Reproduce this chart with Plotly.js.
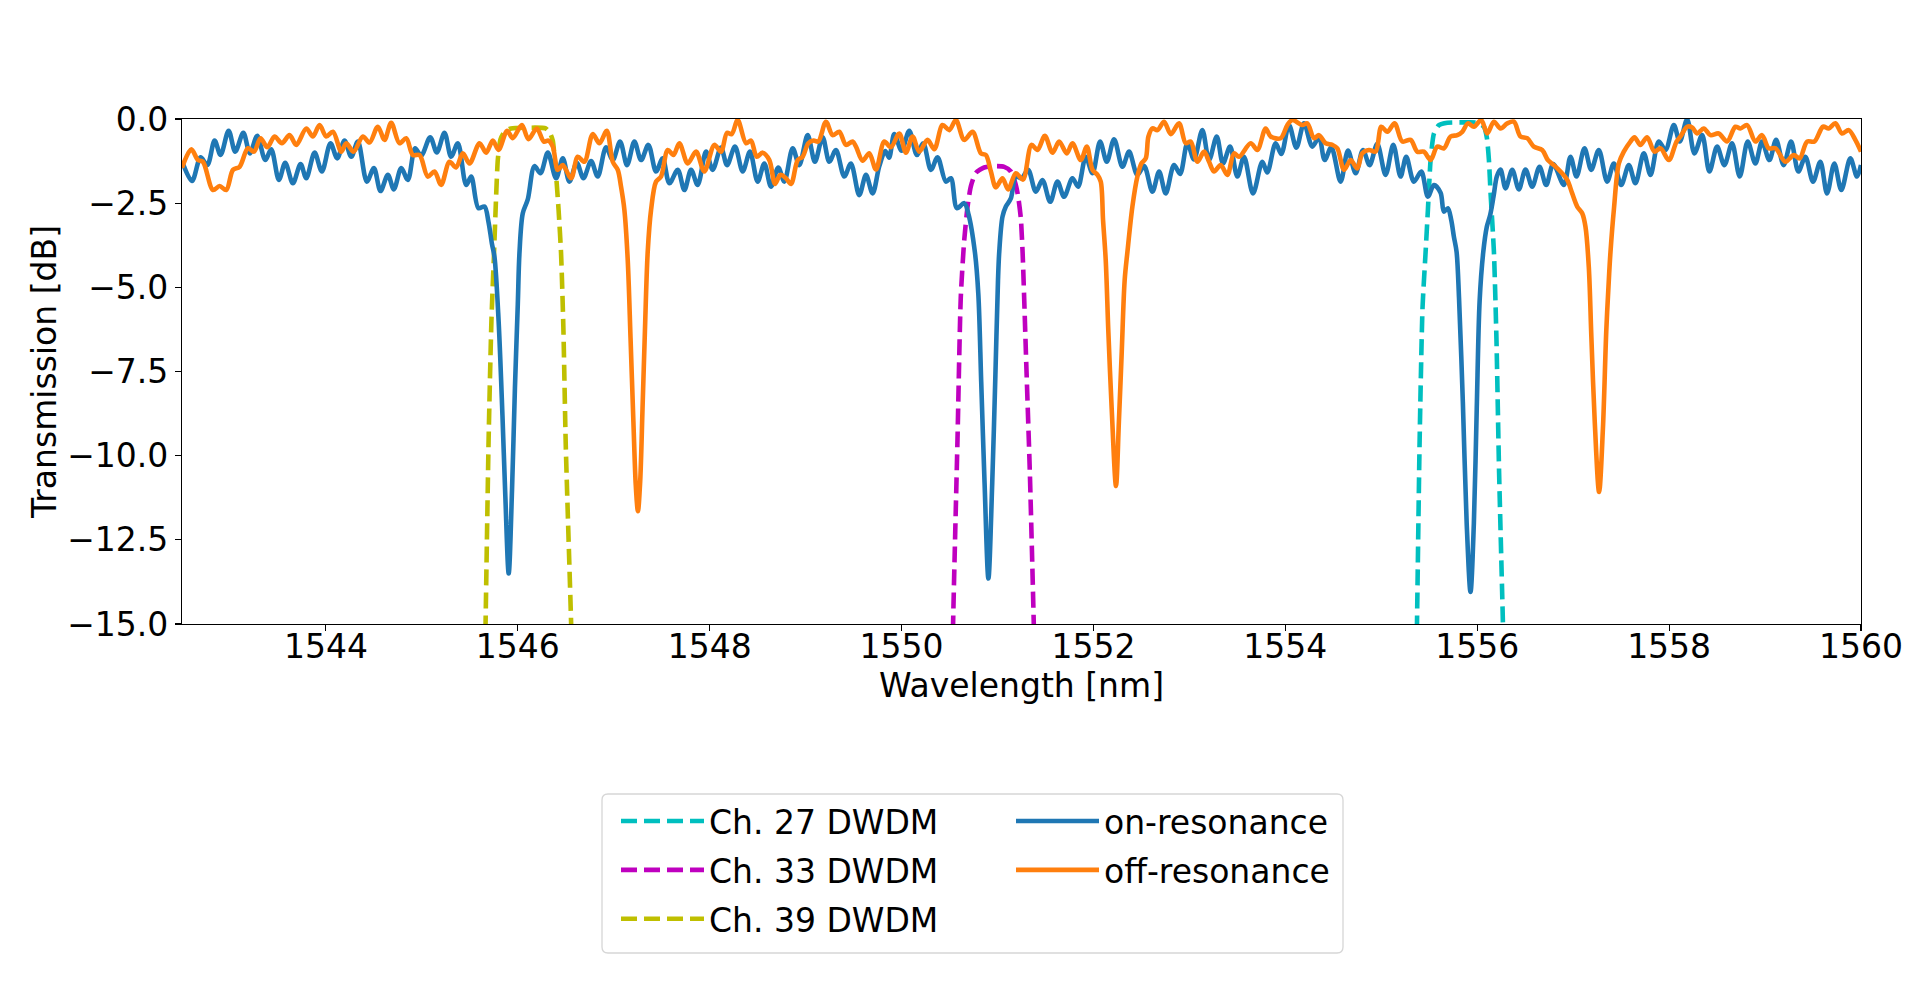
<!DOCTYPE html>
<html>
<head>
<meta charset="utf-8">
<script src="https://cdn.plot.ly/plotly-3.0.1.min.js"></script>
<style>
html,body{margin:0;padding:0;background:#ffffff;}
#chart{width:1920px;height:983px;}
</style>
</head>
<body>
<div id="chart"></div>
<script>
// ---------- data (wavelength in nm, transmission in dB) ----------
const onWl = [
1542.500, 1542.604, 1542.694, 1542.764, 1542.840, 1542.902, 1542.986, 1543.055, 1543.139, 1543.208,
1543.284, 1543.368, 1543.430, 1543.510, 1543.576, 1543.656, 1543.736, 1543.795, 1543.882, 1543.958,
1544.048, 1544.118, 1544.194, 1544.264, 1544.333, 1544.427, 1544.500, 1544.569, 1544.646, 1544.708,
1544.785, 1544.854, 1544.930, 1544.993, 1545.087, 1545.156, 1545.236, 1545.305, 1545.375, 1545.462,
1545.514, 1545.590, 1545.653, 1545.694, 1545.730, 1545.757, 1545.800, 1545.840, 1545.870, 1545.905,
1545.940, 1545.970, 1546.000, 1546.017, 1546.052, 1546.104, 1546.174, 1546.236, 1546.313, 1546.399,
1546.469, 1546.538, 1546.615, 1546.684, 1546.764, 1546.833, 1546.920, 1546.990, 1547.066, 1547.139,
1547.215, 1547.285, 1547.361, 1547.441, 1547.510, 1547.580, 1547.667, 1547.736, 1547.806, 1547.875,
1547.962, 1548.031, 1548.118, 1548.181, 1548.264, 1548.344, 1548.420, 1548.500, 1548.570, 1548.639,
1548.715, 1548.778, 1548.865, 1548.934, 1549.021, 1549.097, 1549.177, 1549.247, 1549.316, 1549.403,
1549.472, 1549.559, 1549.629, 1549.698, 1549.768, 1549.830, 1549.870, 1549.924, 1550.000, 1550.080,
1550.160, 1550.226, 1550.306, 1550.375, 1550.462, 1550.514, 1550.577, 1550.653, 1550.695, 1550.764,
1550.800, 1550.830, 1550.865, 1550.905, 1550.945, 1550.978, 1551.005, 1551.018, 1551.052, 1551.087,
1551.139, 1551.191, 1551.250, 1551.319, 1551.399, 1551.468, 1551.549, 1551.625, 1551.694, 1551.781,
1551.840, 1551.920, 1551.990, 1552.069, 1552.139, 1552.215, 1552.302, 1552.371, 1552.458, 1552.528,
1552.615, 1552.684, 1552.753, 1552.840, 1552.903, 1552.979, 1553.048, 1553.135, 1553.205, 1553.285,
1553.350, 1553.424, 1553.500, 1553.569, 1553.663, 1553.760, 1553.812, 1553.899, 1553.958, 1554.038,
1554.115, 1554.194, 1554.281, 1554.351, 1554.410, 1554.479, 1554.576, 1554.653, 1554.733, 1554.809,
1554.878, 1554.958, 1555.045, 1555.125, 1555.201, 1555.260, 1555.340, 1555.417, 1555.486, 1555.549,
1555.618, 1555.653, 1555.694, 1555.729, 1555.757, 1555.785, 1555.810, 1555.850, 1555.890, 1555.930,
1555.965, 1555.995, 1556.025, 1556.063, 1556.100, 1556.135, 1556.170, 1556.205, 1556.243, 1556.295,
1556.365, 1556.434, 1556.503, 1556.573, 1556.649, 1556.719, 1556.792, 1556.903, 1556.972, 1557.035,
1557.118, 1557.188, 1557.267, 1557.354, 1557.424, 1557.500, 1557.580, 1557.649, 1557.736, 1557.806,
1557.892, 1557.962, 1558.049, 1558.111, 1558.188, 1558.264, 1558.344, 1558.420, 1558.500, 1558.576,
1558.656, 1558.736, 1558.819, 1558.899, 1558.969, 1559.045, 1559.115, 1559.194, 1559.271, 1559.347,
1559.420, 1559.500, 1559.576, 1559.646, 1559.722, 1559.795, 1559.889, 1559.958, 1560.000
];
const onDb = [
-1.25, -1.84, -1.14, -1.37, -0.64, -1.07, -0.35, -0.97, -0.41, -1.02,
-0.50, -1.22, -0.90, -1.81, -1.30, -1.91, -1.34, -1.76, -1.00, -1.56,
-0.72, -1.17, -0.64, -1.12, -0.67, -1.86, -1.46, -2.14, -1.66, -2.09,
-1.46, -1.81, -0.87, -1.09, -0.54, -0.99, -0.41, -1.12, -0.72, -1.96,
-1.71, -2.65, -2.60, -3.05, -3.70, -4.10, -6.00, -8.80, -11.20, -13.50,
-11.00, -8.00, -5.50, -4.00, -2.80, -2.39, -1.40, -1.61, -1.00, -1.76,
-1.17, -1.86, -1.30, -1.76, -1.25, -1.71, -0.84, -1.22, -0.67, -1.37,
-0.67, -1.22, -0.77, -1.56, -1.17, -1.91, -1.51, -2.11, -1.51, -1.96,
-0.97, -1.51, -0.85, -1.37, -0.82, -1.56, -0.97, -1.86, -1.32, -2.01,
-1.44, -1.86, -0.87, -1.37, -0.48, -1.27, -0.54, -1.27, -0.92, -1.71,
-1.32, -2.26, -1.66, -2.21, -1.40, -0.95, -1.15, -0.45, -0.94, -0.35,
-1.07, -0.72, -1.51, -1.14, -1.86, -1.76, -2.65, -2.50, -2.80, -3.95,
-5.20, -7.80, -10.80, -13.65, -10.80, -7.60, -4.80, -3.95, -2.90, -2.60,
-2.36, -1.71, -1.76, -1.51, -2.16, -1.81, -2.46, -1.86, -2.31, -1.76,
-2.01, -1.12, -1.61, -0.67, -1.27, -0.60, -1.42, -0.97, -1.66, -1.40,
-2.16, -1.56, -2.21, -1.37, -1.63, -0.72, -1.20, -0.33, -1.22, -0.52,
-1.32, -0.82, -1.71, -1.12, -2.21, -1.27, -1.59, -0.72, -1.04, -0.18,
-0.85, -0.13, -0.82, -0.54, -1.22, -0.84, -1.86, -0.94, -1.61, -0.92,
-1.37, -0.74, -1.66, -0.77, -1.71, -1.12, -1.86, -1.56, -2.31, -1.96,
-2.19, -2.75, -2.65, -3.00, -3.50, -3.95, -5.30, -8.40, -12.00, -14.05,
-12.00, -8.60, -5.40, -3.95, -3.20, -2.85, -2.30, -1.70, -1.50, -2.06,
-1.51, -2.09, -1.50, -2.01, -1.42, -1.96, -1.34, -1.96, -1.12, -1.71,
-0.87, -1.51, -0.92, -1.86, -1.32, -1.96, -1.37, -1.91, -1.02, -1.66,
-0.67, -0.92, -0.18, -0.67, -0.01, -1.02, -0.48, -1.56, -0.82, -1.37,
-0.72, -1.71, -0.67, -1.32, -0.67, -1.22, -0.62, -1.37, -0.67, -1.56,
-1.12, -1.86, -1.27, -2.21, -1.32, -2.11, -1.17, -1.71, -1.37
];

const offWl = [
1542.500, 1542.597, 1542.666, 1542.718, 1542.823, 1542.892, 1542.961, 1543.031, 1543.100, 1543.187,
1543.250, 1543.319, 1543.389, 1543.465, 1543.541, 1543.621, 1543.691, 1543.795, 1543.864, 1543.934,
1544.003, 1544.073, 1544.160, 1544.212, 1544.288, 1544.385, 1544.455, 1544.541, 1544.611, 1544.680,
1544.767, 1544.837, 1544.906, 1544.976, 1545.062, 1545.132, 1545.201, 1545.288, 1545.357, 1545.427,
1545.497, 1545.601, 1545.670, 1545.740, 1545.799, 1545.889, 1545.948, 1546.042, 1546.111, 1546.198,
1546.271, 1546.319, 1546.365, 1546.417, 1546.469, 1546.556, 1546.625, 1546.694, 1546.781, 1546.851,
1546.927, 1546.990, 1547.042, 1547.076, 1547.111, 1547.146, 1547.175, 1547.205, 1547.230, 1547.252,
1547.275, 1547.300, 1547.325, 1547.354, 1547.389, 1547.441, 1547.493, 1547.563, 1547.622, 1547.684,
1547.771, 1547.858, 1547.944, 1548.049, 1548.118, 1548.181, 1548.229, 1548.292, 1548.379, 1548.431,
1548.490, 1548.552, 1548.622, 1548.681, 1548.736, 1548.795, 1548.848, 1548.917, 1548.969, 1549.028,
1549.083, 1549.132, 1549.212, 1549.281, 1549.351, 1549.420, 1549.490, 1549.525, 1549.594, 1549.663,
1549.733, 1549.820, 1549.889, 1549.976, 1550.045, 1550.115, 1550.184, 1550.271, 1550.341, 1550.427,
1550.497, 1550.566, 1550.653, 1550.740, 1550.827, 1550.879, 1550.931, 1550.983, 1551.052, 1551.111,
1551.191, 1551.265, 1551.354, 1551.417, 1551.493, 1551.573, 1551.642, 1551.722, 1551.781, 1551.868,
1551.931, 1551.990, 1552.042, 1552.076, 1552.100, 1552.128, 1552.155, 1552.190, 1552.235, 1552.265,
1552.295, 1552.325, 1552.354, 1552.406, 1552.458, 1552.500, 1552.545, 1552.573, 1552.615, 1552.667,
1552.736, 1552.806, 1552.892, 1552.962, 1553.014, 1553.083, 1553.153, 1553.205, 1553.257, 1553.326,
1553.396, 1553.465, 1553.517, 1553.639, 1553.708, 1553.795, 1553.847, 1553.951, 1554.021, 1554.073,
1554.177, 1554.229, 1554.299, 1554.351, 1554.420, 1554.490, 1554.542, 1554.611, 1554.681, 1554.750,
1554.802, 1554.872, 1554.941, 1555.000, 1555.063, 1555.139, 1555.219, 1555.306, 1555.375, 1555.444,
1555.514, 1555.583, 1555.653, 1555.722, 1555.792, 1555.844, 1555.903, 1555.965, 1556.042, 1556.104,
1556.174, 1556.243, 1556.313, 1556.382, 1556.451, 1556.521, 1556.590, 1556.677, 1556.736, 1556.799,
1556.868, 1556.938, 1556.990, 1557.042, 1557.094, 1557.128, 1557.163, 1557.190, 1557.225, 1557.270,
1557.310, 1557.345, 1557.375, 1557.389, 1557.424, 1557.476, 1557.528, 1557.597, 1557.639, 1557.701,
1557.771, 1557.847, 1557.910, 1557.997, 1558.077, 1558.118, 1558.188, 1558.240, 1558.292, 1558.361,
1558.431, 1558.517, 1558.604, 1558.691, 1558.743, 1558.813, 1558.899, 1558.969, 1559.038, 1559.108,
1559.212, 1559.299, 1559.361, 1559.438, 1559.514, 1559.604, 1559.663, 1559.733, 1559.802, 1559.872,
1559.941, 1560.000
];
const offDb = [
-1.45, -0.90, -1.22, -1.27, -2.11, -1.99, -2.11, -1.51, -1.42, -0.87,
-0.97, -0.57, -0.84, -0.52, -0.72, -0.48, -0.77, -0.28, -0.52, -0.18,
-0.52, -0.38, -0.97, -0.72, -0.97, -0.52, -0.70, -0.23, -0.62, -0.11,
-0.72, -0.57, -1.07, -1.07, -1.71, -1.56, -1.96, -1.27, -1.44, -1.02,
-1.32, -0.72, -1.00, -0.64, -0.92, -0.35, -0.57, -0.18, -0.60, -0.28,
-0.67, -0.64, -0.82, -1.51, -1.37, -1.76, -1.12, -1.27, -0.45, -0.72,
-0.35, -1.27, -1.51, -2.01, -2.70, -4.20, -6.50, -9.00, -10.90, -11.65,
-10.80, -8.60, -6.30, -3.95, -2.70, -1.86, -1.71, -0.92, -1.07, -0.72,
-1.32, -0.97, -1.56, -0.77, -0.97, -0.41, -0.45, -0.03, -0.72, -0.64,
-1.12, -1.00, -1.22, -1.93, -1.66, -1.76, -1.93, -1.22, -1.12, -0.72,
-0.64, -0.67, -0.08, -0.48, -0.38, -0.77, -0.67, -0.82, -1.24, -1.02,
-1.50, -0.67, -0.84, -0.43, -1.00, -0.52, -0.97, -0.62, -0.90, -0.18,
-0.33, -0.03, -0.62, -0.38, -1.02, -1.07, -1.56, -2.03, -1.76, -2.09,
-1.61, -1.80, -0.77, -0.92, -0.50, -1.00, -0.67, -1.02, -0.72, -1.22,
-0.82, -1.51, -1.66, -1.86, -3.00, -4.20, -6.30, -8.60, -10.90, -9.00,
-6.90, -4.80, -3.95, -2.60, -1.71, -1.32, -1.17, -0.52, -0.28, -0.33,
-0.08, -0.45, -0.13, -0.72, -0.67, -1.27, -0.97, -1.27, -1.56, -1.37,
-1.66, -1.02, -1.12, -0.72, -0.92, -0.28, -0.52, -0.57, -0.18, -0.03,
-0.18, -0.13, -0.57, -0.48, -0.72, -0.77, -0.87, -1.51, -1.22, -1.47,
-1.02, -0.92, -0.97, -0.23, -0.38, -0.13, -0.67, -0.62, -0.97, -0.97,
-1.22, -0.82, -0.87, -0.52, -0.48, -0.38, -0.13, -0.23, -0.03, -0.43,
-0.08, -0.28, -0.13, -0.08, -0.52, -0.57, -0.82, -0.92, -1.22, -1.37,
-1.56, -1.81, -2.21, -2.60, -2.80, -3.20, -4.40, -6.50, -9.00, -11.08,
-9.20, -6.30, -4.60, -3.95, -2.70, -1.32, -0.97, -0.67, -0.54, -0.77,
-0.54, -0.97, -0.87, -1.22, -0.67, -0.52, -0.23, -0.25, -0.43, -0.28,
-0.48, -0.43, -0.67, -0.23, -0.28, -0.18, -0.67, -0.48, -0.87, -0.87,
-1.27, -1.07, -1.17, -0.67, -0.67, -0.23, -0.28, -0.13, -0.43, -0.33,
-0.62, -0.97
];

const ch27Wl = [1555.345, 1555.372, 1555.400, 1555.430, 1555.462, 1555.486, 1555.514, 1555.549, 1555.601, 1555.690, 1555.860, 1556.000, 1556.069, 1556.100, 1556.122, 1556.139, 1556.174, 1556.200, 1556.228, 1556.268, 1556.290];
const ch27Db = [-20, -15, -9.5, -5.6, -3.95, -2.7, -1.22, -0.43, -0.18, -0.11, -0.10, -0.11, -0.23, -0.55, -1.22, -2.2, -3.95, -6.5, -10.5, -15, -18];

const ch33Wl = [1550.510, 1550.537, 1550.583, 1550.617, 1550.653, 1550.688, 1550.722, 1550.774, 1550.861, 1550.965, 1551.070, 1551.139, 1551.190, 1551.215, 1551.243, 1551.262, 1551.300, 1551.337, 1551.378, 1551.400];
const ch33Db = [-20, -15, -9.5, -5.3, -3.6, -2.6, -2.0, -1.6, -1.44, -1.40, -1.42, -1.56, -1.95, -2.3, -2.95, -4.0, -7.3, -10.5, -15, -18];

const ch39Wl = [1545.635, 1545.664, 1545.696, 1545.725, 1545.752, 1545.774, 1545.792, 1545.820, 1545.861, 1545.930, 1546.100, 1546.290, 1546.340, 1546.365, 1546.385, 1546.400, 1546.425, 1546.451, 1546.475, 1546.500, 1546.556, 1546.580];
const ch39Db = [-20, -15, -9.5, -6.0, -4.0, -2.3, -1.2, -0.6, -0.38, -0.28, -0.26, -0.28, -0.45, -0.65, -1.2, -1.7, -2.7, -4.0, -6.2, -9.7, -15, -18];

const seriesNames = ['Ch. 27 DWDM', 'Ch. 33 DWDM', 'Ch. 39 DWDM', 'on-resonance', 'off-resonance'];
const xTicks = [1544, 1546, 1548, 1550, 1552, 1554, 1556, 1558, 1560];
const yTicks = [0, -2.5, -5, -7.5, -10, -12.5, -15];
const xRange = [1542.5, 1560];
const yRange = [-15, 0];

// ---------- figure ----------
const FONT = 'DejaVu Sans, Verdana, sans-serif';
const W = 1920, H = 983;
const M = {l: 182, r: 59, t: 119, b: 359};
const plotW = W - M.l - M.r, plotH = H - M.t - M.b;
const px2x = p => (p - M.l) / plotW;
const px2y = p => (H - M.b - p) / plotH;

const LW = 4.6;
const dash = '16px,7px';
function dwdm(x, y, name, color) {
  return {x, y, name, type: 'scatter', mode: 'lines', legend: 'legend', legendgroup: name,
    line: {color, width: LW, dash, shape: 'spline', smoothing: 0.6}, hoverinfo: 'skip'};
}
function meas(x, y, name, color) {
  return {x, y, name, type: 'scatter', mode: 'lines', legend: 'legend2', legendgroup: name,
    line: {color, width: LW, shape: 'spline', smoothing: 0.9}, hoverinfo: 'skip'};
}
const traces = [
  dwdm(ch27Wl, ch27Db, seriesNames[0], '#00bfbf'),
  dwdm(ch33Wl, ch33Db, seriesNames[1], '#bf00bf'),
  dwdm(ch39Wl, ch39Db, seriesNames[2], '#bfbf00'),
  meas(onWl, onDb, seriesNames[3], '#1f77b4'),
  meas(offWl, offDb, seriesNames[4], '#ff7f0e')
];

// rounded legend frame (matplotlib style)
const bx0 = 602, bx1 = 1343, by0 = 794, by1 = 953, rr = 6;
const X = p => px2x(p).toFixed(5), Y = p => px2y(p).toFixed(5);
const framePath = 'M' + X(bx0 + rr) + ',' + Y(by0) +
  ' L' + X(bx1 - rr) + ',' + Y(by0) + ' Q' + X(bx1) + ',' + Y(by0) + ' ' + X(bx1) + ',' + Y(by0 + rr) +
  ' L' + X(bx1) + ',' + Y(by1 - rr) + ' Q' + X(bx1) + ',' + Y(by1) + ' ' + X(bx1 - rr) + ',' + Y(by1) +
  ' L' + X(bx0 + rr) + ',' + Y(by1) + ' Q' + X(bx0) + ',' + Y(by1) + ' ' + X(bx0) + ',' + Y(by1 - rr) +
  ' L' + X(bx0) + ',' + Y(by0 + rr) + ' Q' + X(bx0) + ',' + Y(by0) + ' ' + X(bx0 + rr) + ',' + Y(by0) + ' Z';

const axisCommon = {
  showline: true, linecolor: '#000000', linewidth: 1.1, mirror: true,
  ticks: 'outside', ticklen: 6, tickwidth: 1.1, tickcolor: '#000000',
  showgrid: false, zeroline: false, automargin: false,
  tickfont: {family: FONT, size: 33, color: '#000000'}
};

const legendCommon = {
  xanchor: 'left', yanchor: 'top',
  orientation: 'v', bgcolor: 'rgba(0,0,0,0)', borderwidth: 0,
  font: {family: FONT, size: 33, color: '#000000'},
  itemwidth: 83, tracegroupgap: 3, traceorder: 'grouped',
  itemclick: false, itemdoubleclick: false
};

const layout = {
  width: W, height: H,
  margin: M,
  paper_bgcolor: '#ffffff', plot_bgcolor: '#ffffff',
  font: {family: FONT, size: 33, color: '#000000'},
  showlegend: true,
  xaxis: Object.assign({}, axisCommon, {
    range: xRange, tickmode: 'array', tickvals: xTicks, ticktext: xTicks.map(String),
    ticklabelstandoff: -13,
    title: {text: 'Wavelength [nm]', font: {family: FONT, size: 33, color: '#000000'}, standoff: 8}
  }),
  yaxis: Object.assign({}, axisCommon, {
    range: yRange, tickmode: 'array', tickvals: yTicks,
    ticktext: yTicks.map(v => (v < 0 ? '\u2212' : '') + Math.abs(v).toFixed(1)),
    title: {text: 'Transmission [dB]', font: {family: FONT, size: 33, color: '#000000'}, standoff: 0}
  }),
  legend: Object.assign({}, legendCommon, {x: px2x(616), y: px2y(793)}),
  legend2: Object.assign({}, legendCommon, {x: px2x(1011), y: px2y(793)}),
  shapes: [{
    type: 'path', xref: 'paper', yref: 'paper', path: framePath,
    line: {color: '#d6d6d6', width: 1.3}, fillcolor: 'rgba(255,255,255,0.8)', layer: 'below'
  }]
};

Plotly.newPlot('chart', traces, layout, {staticPlot: true, displayModeBar: false});
</script>
</body>
</html>
